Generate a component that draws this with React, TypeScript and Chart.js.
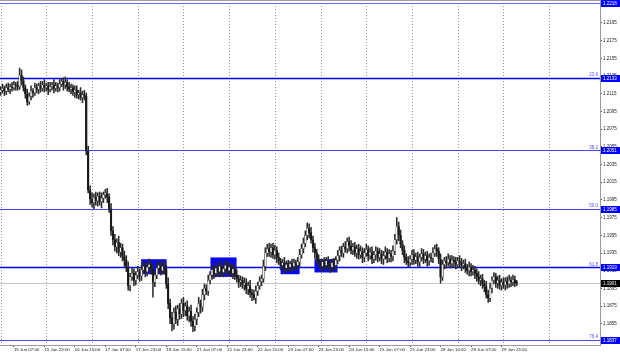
import React, { useEffect, useRef } from 'react';
import { Chart, registerables } from 'chart.js';

Chart.register(...registerables);

// ---- data (prices in pips above 1.1800) ----
const PRICE_BASE = 1.18;
const PIP = 0.0001;
const firstOpen = 317;

const closes = [
  319, 321, 318, 322, 320, 323, 322, 325, 324, 323,
  336, 330, 322, 315, 306, 312, 318, 316, 322, 320,
  324, 321, 325, 322, 324, 320, 323, 325, 321, 324,
  322, 326, 329, 325, 328, 323, 320, 322, 317, 319,
  314, 316, 311, 314, 312, 250, 206, 196, 192, 198,
  194, 199, 193, 197, 201, 203, 198, 185, 160, 150,
  142, 147, 136, 141, 131, 127, 118, 98, 108, 112,
  104, 110, 114, 109, 116, 120, 114, 119, 122, 117,
  102, 110, 118, 121, 115, 120, 117, 100, 78, 62,
  55, 68, 60, 72, 66, 78, 70, 75, 64, 69,
  58, 52, 60, 68, 78, 74, 88, 95, 92, 104,
  110, 116, 112, 118, 114, 120, 113, 117, 121, 115,
  119, 112, 117, 110, 106, 102, 104, 99, 101, 94,
  98, 90, 88, 84, 92, 98, 103, 106, 120, 135,
  140, 136, 141, 133, 138, 130, 126, 121, 124, 118,
  122, 119, 123, 120, 124, 121, 125, 133, 140, 146,
  155, 163, 158, 150, 141, 135, 128, 124, 120, 125,
  121, 126, 122, 119, 124, 121, 127, 132, 138, 135,
  142, 140, 148, 143, 138, 142, 135, 140, 133, 137,
  130, 135, 139, 132, 136, 128, 133, 137, 130, 134,
  128, 132, 136, 129, 134, 131, 137, 150, 165, 155,
  145, 138, 130, 126, 124, 128, 133, 127, 131, 125,
  130, 134, 128, 132, 126, 130, 129, 135, 140, 137,
  128, 108, 122, 126, 124, 128, 123, 127, 125, 122,
  126, 124, 121, 123, 118, 115, 119, 114, 116, 112,
  108, 104, 106, 100, 97, 88, 84, 95, 104, 108,
  101, 104, 98, 102, 99, 103, 100, 104, 102, 105,
  101, 101,
];

const wickUp = [
  4, 5, 3, 4, 5, 3, 5, 4, 3, 5, 8, 6, 4, 3, 5, 4, 6, 3, 5, 4,
  3, 5, 4, 6, 3, 4, 5, 3, 6, 4, 3, 5, 3, 4, 6, 3, 5, 4, 3, 5,
  5, 3, 6, 4, 5, 4, 6, 5, 7, 4, 6, 4, 5, 6, 3, 4, 5, 4, 6, 5,
  6, 4, 7, 5, 4, 6, 5, 7, 4, 6, 5, 4, 6, 3, 5, 6, 4, 5, 6, 4,
  5, 4, 6, 5, 4, 5, 6, 4, 7, 5, 6, 5, 7, 4, 6, 5, 7, 4, 6, 5,
  7, 5, 6, 5, 7, 4, 6, 5, 4, 6, 4, 5, 4, 6, 3, 5, 6, 4, 5, 4,
  6, 4, 5, 4, 6, 4, 5, 4, 6, 5, 4, 6, 4, 5, 6, 4, 5, 4, 7, 6,
  5, 6, 4, 5, 6, 4, 5, 3, 4, 6, 4, 5, 3, 5, 4, 3, 5, 6, 5, 6,
  5, 6, 5, 6, 4, 5, 4, 5, 4, 3, 5, 4, 5, 3, 4, 5, 4, 6, 4, 5,
  4, 6, 4, 5, 6, 4, 5, 4, 5, 6, 4, 5, 6, 4, 5, 6, 4, 5, 4, 6,
  4, 5, 6, 4, 5, 4, 6, 6, 10, 5, 6, 4, 5, 4, 5, 4, 5, 6, 4, 5,
  4, 6, 5, 4, 5, 4, 5, 6, 4, 5, 4, 6, 5, 4, 5, 6, 4, 5, 4, 5,
  4, 6, 5, 4, 5, 4, 6, 4, 5, 4, 5, 6, 4, 5, 4, 6, 5, 6, 4, 5,
  4, 5, 6, 4, 5, 4, 5, 6, 4, 5, 4, 3,
];

const wickDown = [
  4, 3, 5, 4, 3, 5, 4, 3, 5, 4, 3, 5, 4, 5, 4, 3, 4, 5, 3, 4,
  5, 4, 3, 5, 4, 6, 3, 4, 5, 3, 5, 4, 3, 6, 4, 5, 3, 5, 4, 6,
  4, 5, 3, 6, 4, 4, 3, 6, 5, 7, 5, 6, 4, 7, 5, 4, 6, 4, 5, 6,
  5, 7, 4, 6, 5, 7, 4, 5, 6, 4, 6, 5, 4, 6, 5, 4, 6, 5, 4, 6,
  17, 5, 4, 6, 5, 4, 6, 5, 6, 7, 8, 6, 5, 7, 6, 5, 7, 6, 5, 7,
  6, 6, 5, 6, 5, 7, 5, 6, 4, 5, 4, 5, 6, 4, 5, 6, 4, 5, 6, 4,
  5, 4, 6, 5, 4, 6, 5, 4, 6, 5, 6, 5, 7, 2, 6, 5, 4, 5, 4, 5,
  4, 5, 6, 4, 5, 6, 4, 5, 4, 6, 4, 5, 4, 6, 4, 5, 4, 5, 4, 5,
  4, 5, 6, 4, 5, 6, 4, 5, 4, 6, 4, 5, 4, 6, 5, 4, 5, 4, 6, 4,
  5, 4, 5, 6, 4, 5, 4, 6, 5, 4, 6, 5, 4, 6, 4, 5, 4, 6, 5, 4,
  5, 6, 4, 5, 4, 6, 5, 4, 5, 6, 4, 5, 6, 4, 5, 4, 6, 5, 4, 5,
  6, 4, 5, 4, 6, 5, 4, 5, 4, 6, 5, 7, 4, 5, 6, 4, 5, 4, 6, 5,
  4, 5, 6, 4, 5, 4, 6, 5, 4, 6, 5, 4, 6, 5, 6, 4, 5, 4, 5, 4,
  5, 6, 4, 5, 4, 6, 5, 4, 5, 4, 4, 3,
];

const timeTickBars = [7, 23, 39, 55, 71, 87, 103, 119, 135, 151, 167, 183, 199, 215, 231, 247, 263];
const timeTickLabels = [
  '15 Jun 07:00', '15 Jun 23:00', '16 Jun 15:00', '17 Jun 07:00', '17 Jun 23:00',
  '18 Jun 15:00', '21 Jun 07:00', '21 Jun 23:00', '22 Jun 15:00', '23 Jun 07:00',
  '23 Jun 23:00', '24 Jun 15:00', '25 Jun 07:00', '25 Jun 23:00', '28 Jun 10:00',
  '29 Jun 07:00', '29 Jun 23:00',
];
const gridBars = [0, 24, 48, 72, 96, 120, 144, 168, 192, 216, 240, 264, 288];

const priceTicks = [
  1.1835, 1.1855, 1.1875, 1.1895, 1.1915, 1.1935, 1.1955, 1.1975, 1.1995, 1.2015,
  1.2035, 1.2055, 1.2075, 1.2095, 1.2115, 1.2135, 1.2155, 1.2175, 1.2195, 1.2215,
];

const fibPrices = [1.2133, 1.2051, 1.1985, 1.1919, 1.1837];
const fibNames = ['23.6', '38.2', '50.0', '61.8', '76.4'];
const topPrice = 1.2218;
const lastPrice = 1.1901;

const zoneFrom = [73.8, 110.2, 147.0, 164.8];
const zoneTo = [87.2, 123.9, 157.0, 176.9];
const zoneLow = [1.1911, 1.1908, 1.1911, 1.1913];
const zoneHigh = [1.1928, 1.1930, 1.1924, 1.1928];

// ---- styles ----
const FIB_STRONG = [true, false, false, true, false];
const LABEL_FONT = '4.5px "Liberation Sans", Arial, sans-serif';

const toPrice = (p: number) => PRICE_BASE + p * PIP;

export default function App() {
  const ref = useRef<HTMLCanvasElement>(null);

  useEffect(() => {
    document.body.style.margin = '0';
    const canvas = ref.current!;

    const opens = closes.map((c, i) => (i === 0 ? firstOpen : closes[i - 1]));
    const highs = closes.map((c, i) => Math.max(opens[i], c) + wickUp[i]);
    const lows = closes.map((c, i) => Math.min(opens[i], c) - wickDown[i]);

    const bodyData = closes.map((c, i) => ({ x: i, y: [toPrice(opens[i]), toPrice(c)] }));
    const wickData = closes.map((c, i) => ({ x: i, y: [toPrice(lows[i]), toPrice(highs[i])] }));
    const bodyColors = closes.map((c, i) => (c > opens[i] ? '#f2f2f2' : '#161616'));

    const overlay = {
      id: 'mt4overlay',
      beforeDatasetsDraw(chart: any) {
        const { ctx, chartArea: a, scales } = chart;
        const xs = scales.x;
        const ys = scales.y;
        ctx.save();
        // dotted vertical grid
        ctx.strokeStyle = '#9a9a9a';
        ctx.lineWidth = 1;
        ctx.setLineDash([1, 2]);
        for (const b of gridBars) {
          const px = Math.round(xs.getPixelForValue(b)) + 0.5;
          if (px < a.left || px > a.right) continue;
          ctx.beginPath();
          ctx.moveTo(px, a.top);
          ctx.lineTo(px, a.bottom);
          ctx.stroke();
        }
        ctx.setLineDash([]);
        // zones
        ctx.fillStyle = 'rgb(10,10,240)';
        zoneFrom.forEach((f, i) => {
          const x0 = xs.getPixelForValue(f);
          const x1 = xs.getPixelForValue(zoneTo[i]);
          const y0 = ys.getPixelForValue(zoneHigh[i]);
          const y1 = ys.getPixelForValue(zoneLow[i]);
          ctx.fillRect(x0, y0, x1 - x0, y1 - y0);
        });
        // current price line
        const cy = Math.round(ys.getPixelForValue(lastPrice)) + 0.5;
        ctx.strokeStyle = '#c8c8c8';
        ctx.lineWidth = 1;
        ctx.beginPath();
        ctx.moveTo(a.left, cy);
        ctx.lineTo(a.right, cy);
        ctx.stroke();
        // top level line
        const ty = Math.round(ys.getPixelForValue(topPrice)) + 0.5;
        ctx.strokeStyle = 'rgb(100,100,255)';
        ctx.beginPath();
        ctx.moveTo(a.left, ty);
        ctx.lineTo(a.right, ty);
        ctx.stroke();
        // fib lines
        fibPrices.forEach((p, i) => {
          const py = Math.round(ys.getPixelForValue(p)) + 0.5;
          ctx.strokeStyle = FIB_STRONG[i] ? 'rgb(0,0,255)' : 'rgb(70,70,255)';
          ctx.lineWidth = FIB_STRONG[i] ? 1.5 : 1;
          ctx.beginPath();
          ctx.moveTo(a.left, py);
          ctx.lineTo(a.right, py);
          ctx.stroke();
        });
        ctx.restore();
      },
      afterDraw(chart: any) {
        const { ctx, chartArea: a, scales } = chart;
        const ys = scales.y;
        ctx.save();
        // frame
        ctx.strokeStyle = '#a0a0a0';
        ctx.lineWidth = 1;
        ctx.beginPath();
        ctx.moveTo(a.left, a.top + 0.5);
        ctx.lineTo(a.right, a.top + 0.5);
        ctx.stroke();
        // fib level names
        ctx.font = LABEL_FONT;
        ctx.fillStyle = 'rgb(80,80,255)';
        ctx.textAlign = 'right';
        ctx.textBaseline = 'bottom';
        fibPrices.forEach((p, i) => {
          const py = ys.getPixelForValue(p);
          ctx.fillText(fibNames[i], a.right - 2, py - 0.5);
        });
        // price tags
        const tag = (p: number, bg: string) => {
          const py = ys.getPixelForValue(p);
          ctx.fillStyle = bg;
          ctx.fillRect(a.right + 1, Math.round(py) - 3, 19, 7);
          ctx.fillStyle = '#ffffff';
          ctx.textAlign = 'left';
          ctx.textBaseline = 'middle';
          ctx.fillText(p.toFixed(4), a.right + 3, Math.round(py) + 0.5);
        };
        tag(topPrice, 'rgb(0,0,255)');
        fibPrices.forEach((p) => tag(p, 'rgb(0,0,255)'));
        tag(lastPrice, '#000000');
        ctx.restore();
      },
    };

    const chart = new Chart(canvas, {
      type: 'bar',
      data: {
        datasets: [
          {
            label: 'body',
            data: bodyData as any,
            backgroundColor: bodyColors,
            borderColor: '#2a2a2a',
            borderWidth: 0.45,
            borderSkipped: false,
            barThickness: 1.8,
            minBarLength: 1,
            grouped: false,
            order: 0,
          } as any,
          {
            label: 'wick',
            data: wickData as any,
            backgroundColor: '#2a2a2a',
            barThickness: 0.9,
            grouped: false,
            order: 1,
          } as any,
        ],
      },
      options: {
        animation: false,
        responsive: false,
        devicePixelRatio: 1,
        maintainAspectRatio: false,
        layout: { padding: 0 },
        plugins: { legend: { display: false }, tooltip: { enabled: false }, title: { display: false } },
        scales: {
          x: {
            type: 'linear',
            position: 'bottom',
            min: -0.3,
            max: 314.7,
            offset: false,
            grid: { drawOnChartArea: false, drawTicks: true, tickLength: 2, color: '#555', offset: false },
            border: { display: true, color: '#9a9a9a' },
            ticks: {
              autoSkip: false,
              maxRotation: 0,
              minRotation: 0,
              align: 'start',
              padding: 0,
              color: '#222',
              font: { family: '"Liberation Sans", Arial, sans-serif', size: 4.4 },
              callback: (v: any) => {
                const k = timeTickBars.indexOf(Number(v));
                return k >= 0 ? timeTickLabels[k] : '';
              },
            },
            afterBuildTicks: (s: any) => {
              s.ticks = timeTickBars.map((v) => ({ value: v }));
            },
            afterFit: (s: any) => {
              s.height = 12;
              s.paddingLeft = 0;
              s.paddingRight = 0;
            },
          } as any,
          y: {
            type: 'linear',
            position: 'right',
            min: 1.1831,
            max: 1.2221,
            grid: { drawOnChartArea: false, drawTicks: true, tickLength: 2, color: '#555' },
            border: { display: true, color: '#9a9a9a' },
            ticks: {
              padding: 1,
              color: '#222',
              font: { family: '"Liberation Sans", Arial, sans-serif', size: 4.5 },
              callback: (v: any) => Number(v).toFixed(4),
            },
            afterBuildTicks: (s: any) => {
              s.ticks = priceTicks.map((v) => ({ value: v }));
            },
            afterFit: (s: any) => {
              s.width = 20;
              s.paddingTop = 0;
              s.paddingBottom = 0;
            },
          } as any,
        },
      },
      plugins: [overlay],
    });

    return () => chart.destroy();
  }, []);

  return (
    <div style={{ width: 620, height: 357, background: '#ffffff' }}>
      <canvas ref={ref} width={620} height={357} style={{ display: 'block', width: 620, height: 357 }} />
    </div>
  );
}
